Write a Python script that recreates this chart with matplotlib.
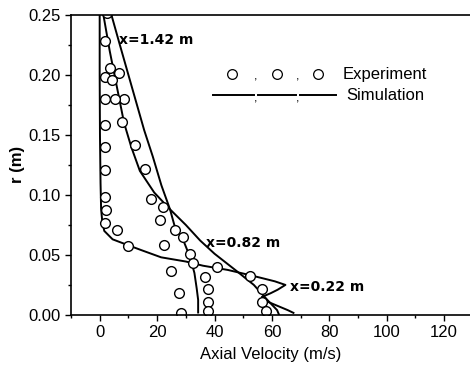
import numpy as np
import matplotlib
matplotlib.use('Agg')
import matplotlib.pyplot as plt
from matplotlib.ticker import MultipleLocator

plt.rcParams['font.family'] = ['Liberation Sans', 'DejaVu Sans']

# simulation profiles (axial velocity in m/s, radius in m)
v_sim_022 = [0.0, 0.0, 0.1, 0.3, 0.5, 0.9, 1.6, 4.5, 10.0, 14.5, 21.4, 30.0, 36.0,
             44.6, 52.6, 56.0, 61.0, 64.7, 62.0, 59.5, 56.5, 58.5, 62.5, 65.5, 67.5]
r_sim_022 = [0.25, 0.20, 0.15, 0.11, 0.088, 0.078, 0.070, 0.063, 0.058, 0.054, 0.048,
             0.0445, 0.041, 0.0375, 0.033, 0.031, 0.028, 0.025, 0.021, 0.018, 0.015,
             0.011, 0.007, 0.004, 0.0017]
v_sim_082 = [1.3, 3.5, 6.0, 8.5, 11.0, 14.0, 19.0, 24.5, 30.0, 35.0, 40.0, 48.0,
             53.7, 58.4, 61.8, 62.5]
r_sim_082 = [0.25, 0.22, 0.19, 0.16, 0.14, 0.12, 0.102, 0.088, 0.075, 0.062,
             0.051, 0.036, 0.025, 0.0125, 0.004, 0.0]
v_sim_142 = [4.1, 6.8, 11.8, 15.5, 18.5, 21.5, 24.5, 26.0, 29.5, 31.5, 33.0, 33.8,
             34.3, 34.3]
r_sim_142 = [0.25, 0.227, 0.185, 0.154, 0.132, 0.108, 0.088, 0.075, 0.060, 0.048,
             0.035, 0.022, 0.0125, 0.002]

# experiment points
v_exp_022 = [1.9, 1.9, 1.9, 1.9, 1.9, 1.9, 1.9, 2.2, 1.9, 5.9, 10.0,
             41.0, 52.3, 56.6, 56.6, 58.0]
r_exp_022 = [0.228, 0.1986, 0.18, 0.158, 0.14, 0.121, 0.0986, 0.0875, 0.0764, 0.071,
             0.0575, 0.040, 0.0325, 0.022, 0.011, 0.003]
v_exp_082 = [3.6, 6.7, 8.5, 18.0, 22.2, 26.2, 29.0, 31.4, 32.6, 36.6, 37.6, 37.8, 37.8]
r_exp_082 = [0.2056, 0.202, 0.18, 0.097, 0.09, 0.071, 0.065, 0.051, 0.043, 0.032,
             0.022, 0.011, 0.003]
v_exp_142 = [2.5, 4.2, 5.3, 7.7, 12.3, 15.8, 21.0, 22.5, 24.8, 27.6, 28.3]
r_exp_142 = [0.252, 0.196, 0.18, 0.161, 0.142, 0.122, 0.079, 0.058, 0.037, 0.0186,
             0.0014]

labels = ['x=1.42 m', 'x=0.82 m', 'x=0.22 m']
label_pos = [(6.8, 0.229), (37.0, 0.060), (66.4, 0.0233)]

fig = plt.figure(figsize=(4.7, 3.74), dpi=100)
ax = fig.add_axes([0.151, 0.158, 0.849, 0.802])

for v, r in [(v_sim_022, r_sim_022), (v_sim_082, r_sim_082), (v_sim_142, r_sim_142)]:
    ax.plot(v, r, color='black', lw=1.4)

for v, r in [(v_exp_022, r_exp_022), (v_exp_082, r_exp_082), (v_exp_142, r_exp_142)]:
    ax.plot(v, r, 'o', ms=7, mfc='white', mec='black', mew=1.0, ls='none')

for txt, (x, y) in zip(labels, label_pos):
    ax.text(x, y, txt, fontsize=10, fontweight='bold', family='DejaVu Sans',
            va='center', ha='left')

# hand drawn legend (circles , circles , circles / lines , lines , lines)
tr = ax.transAxes
for xc in [0.404, 0.516, 0.619]:
    ax.plot([xc], [0.803], 'o', ms=7, mfc='white', mec='black', mew=0.9,
            transform=tr, clip_on=False)
for xc in [0.462, 0.567]:
    ax.text(xc, 0.795, ',', transform=tr, fontsize=9, ha='center', va='center')
    ax.text(xc, 0.722, ',', transform=tr, fontsize=9, ha='center', va='center')
for x0, x1 in [(0.356, 0.458), (0.468, 0.563), (0.573, 0.665)]:
    ax.plot([x0, x1], [0.733, 0.733], color='black', lw=1.4, transform=tr,
            clip_on=False)
ax.text(0.68, 0.803, 'Experiment', transform=tr, fontsize=12, va='center')
ax.text(0.69, 0.733, 'Simulation', transform=tr, fontsize=12, va='center')

ax.set_xlim(-10, 129)
ax.set_ylim(0, 0.25)
ax.xaxis.set_major_locator(MultipleLocator(20))
ax.xaxis.set_minor_locator(MultipleLocator(10))
ax.yaxis.set_major_locator(MultipleLocator(0.05))
ax.yaxis.set_minor_locator(MultipleLocator(0.025))
ax.yaxis.set_major_formatter(plt.FormatStrFormatter('%.2f'))
ax.tick_params(which='major', direction='out', length=4, width=1, labelsize=12)
ax.tick_params(which='minor', direction='out', length=2.5, width=1)
ax.spines['right'].set_visible(False)
for s in ['left', 'bottom', 'top']:
    ax.spines[s].set_linewidth(1.2)

ax.set_xlabel('Axial Velocity (m/s)', fontsize=12, labelpad=5)
ax.set_ylabel('r (m)', fontsize=12, fontweight='bold', labelpad=2)

fig.savefig('out.png', dpi=100)
